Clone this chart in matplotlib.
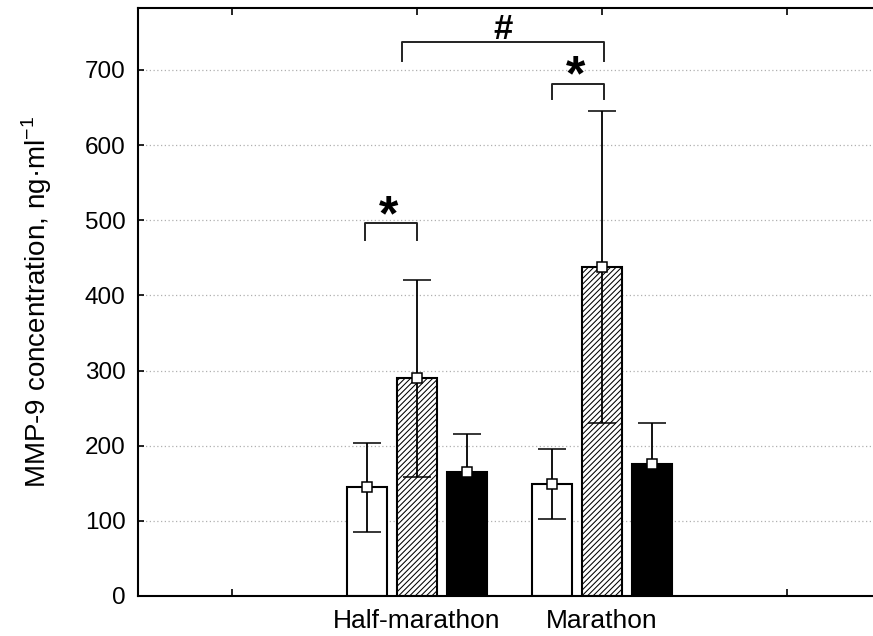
import numpy as np
import matplotlib
matplotlib.use("Agg")
import matplotlib.pyplot as plt

plt.rcParams['font.family'] = ['Liberation Sans', 'DejaVu Sans']
plt.rcParams['mathtext.fontset'] = 'custom'
plt.rcParams['mathtext.rm'] = 'Liberation Sans'
plt.rcParams['hatch.linewidth'] = 0.75

# Data (ng/ml)
groups = ["Half-marathon", "Marathon"]
group_pos = [1, 2]
before_mean = [144.7, 149.0]
before_sd = [59.5, 46.5]
after_mean = [289.7, 438.3]
after_sd = [131.0, 207.5]
recovery_mean = [165.4, 175.7]
recovery_sd = [50.2, 54.1]

# significance brackets: (x0, x1, y_top, y_leg, label)
brackets = [
    (0.72, 1.0, 496, 474, "*"),
    (1.73, 2.01, 682, 661, "*"),
    (0.92, 2.01, 737, 712, "#"),
]

bar_w = 0.216
offset = 0.268

fig = plt.figure(figsize=(8.73, 6.36), dpi=100)
ax = fig.add_axes([138 / 873, 40 / 636, 1 - 138 / 873, 588 / 636])

series = [
    (before_mean, before_sd, dict(facecolor="white", hatch=None)),
    (after_mean, after_sd, dict(facecolor="white", hatch="//////")),
    (recovery_mean, recovery_sd, dict(facecolor="black", hatch=None)),
]

for i, (mean, sd, style) in enumerate(series):
    x = np.array(group_pos) + (i - 1) * offset
    ax.bar(x, mean, width=bar_w, edgecolor="black", linewidth=1.5,
           zorder=2, **style)
    ax.errorbar(x, mean, yerr=sd, fmt="s", color="black", ecolor="black",
                elinewidth=1.3, capsize=10, capthick=1.3,
                markersize=6.5, markerfacecolor="white", markeredgecolor="black",
                markeredgewidth=1.1, zorder=3)

for x0, x1, ytop, yleg, lab in brackets:
    ax.plot([x0, x0, x1, x1], [yleg, ytop, ytop, yleg], color="#222222",
            lw=1.4, zorder=3)
    if lab == "*":
        ax.text((x0 + x1) / 2 - 0.012, ytop - 23, lab, ha="center", va="bottom",
                fontsize=36, fontweight="bold")
    else:
        ax.text((x0 + x1) / 2, 754, lab, ha="center", va="center",
                fontsize=25, fontweight="bold")

ax.set_xlim(-0.508, 3.465)
ax.set_ylim(0, 782.5)

ax.set_yticks(np.arange(0, 701, 100))
for yv in np.arange(100, 701, 100):
    ax.axhline(yv, color="#b0b0b0", lw=0.9, ls=(0, (1, 2)), zorder=0)

ax.set_xticks([0, 1, 2, 3])
ax.set_xticklabels(["", groups[0], groups[1], ""])
ax.tick_params(axis="x", direction="in", top=True, bottom=True, length=5,
               width=1.2, labelsize=19, pad=9)
ax.tick_params(axis="y", direction="in", left=True, right=False, length=4,
               width=1.2, labelsize=17.5, pad=9)

for s in ["left", "top", "bottom"]:
    ax.spines[s].set_linewidth(1.5)
ax.spines["right"].set_visible(False)

ax.set_ylabel("MMP-9 concentration, ng·ml$^{\\mathregular{-1}}$", fontsize=20,
              labelpad=22)

fig.savefig("out.png", dpi=100)
